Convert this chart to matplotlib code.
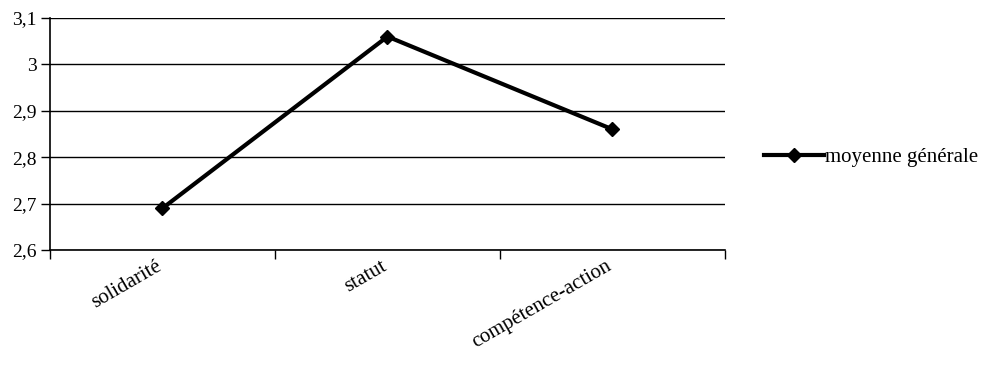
import matplotlib.pyplot as plt
from matplotlib.ticker import FuncFormatter

plt.rcParams['font.family'] = ['Liberation Serif', 'DejaVu Serif']

categories = ["solidarité", "statut", "compétence-action"]
moyenne = [2.69, 3.06, 2.86]
series_label = "moyenne générale"
y_ticks = [2.6, 2.7, 2.8, 2.9, 3.0, 3.1]

fig = plt.figure(figsize=(9.86, 3.75), dpi=100)
ax = fig.add_axes([50 / 986, 1 - 250 / 375, 675 / 986, 232 / 375])

x = list(range(len(categories)))
ax.plot(x, moyenne, color="black", lw=3, marker="D", ms=7.5, label=series_label)

ax.set_xlim(-0.5, len(categories) - 0.5)
ax.set_ylim(2.6, 3.1)
ax.set_yticks(y_ticks)
ax.yaxis.set_major_formatter(FuncFormatter(lambda v, p: f"{v:g}".replace(".", ",")))
ax.grid(axis="y", color="black", lw=1)
ax.set_axisbelow(True)

# category ticks sit between bins, labels at the bin centres
ax.set_xticks([i - 0.5 for i in range(len(categories) + 1)])
ax.set_xticklabels([])
for i, cat in zip(x, categories):
    ax.annotate(cat, xy=(i, 0), xycoords=("data", "axes fraction"),
                xytext=(-5, -5), textcoords="offset points", fontsize=15,
                rotation=30, ha="right", va="top", rotation_mode="anchor")
ax.tick_params(axis="both", which="major", length=6.5, width=1, color="black", labelsize=14)
ax.tick_params(axis="y", direction="out", pad=3)

for s in ["top", "right"]:
    ax.spines[s].set_visible(False)
for s in ["left", "bottom"]:
    ax.spines[s].set_linewidth(1.2)

ax.legend(loc="center left", bbox_to_anchor=(1.045, 0.40), frameon=False,
          fontsize=15, handlelength=2.9, handletextpad=0.05, borderaxespad=0)

fig.savefig("out.png", dpi=100)
